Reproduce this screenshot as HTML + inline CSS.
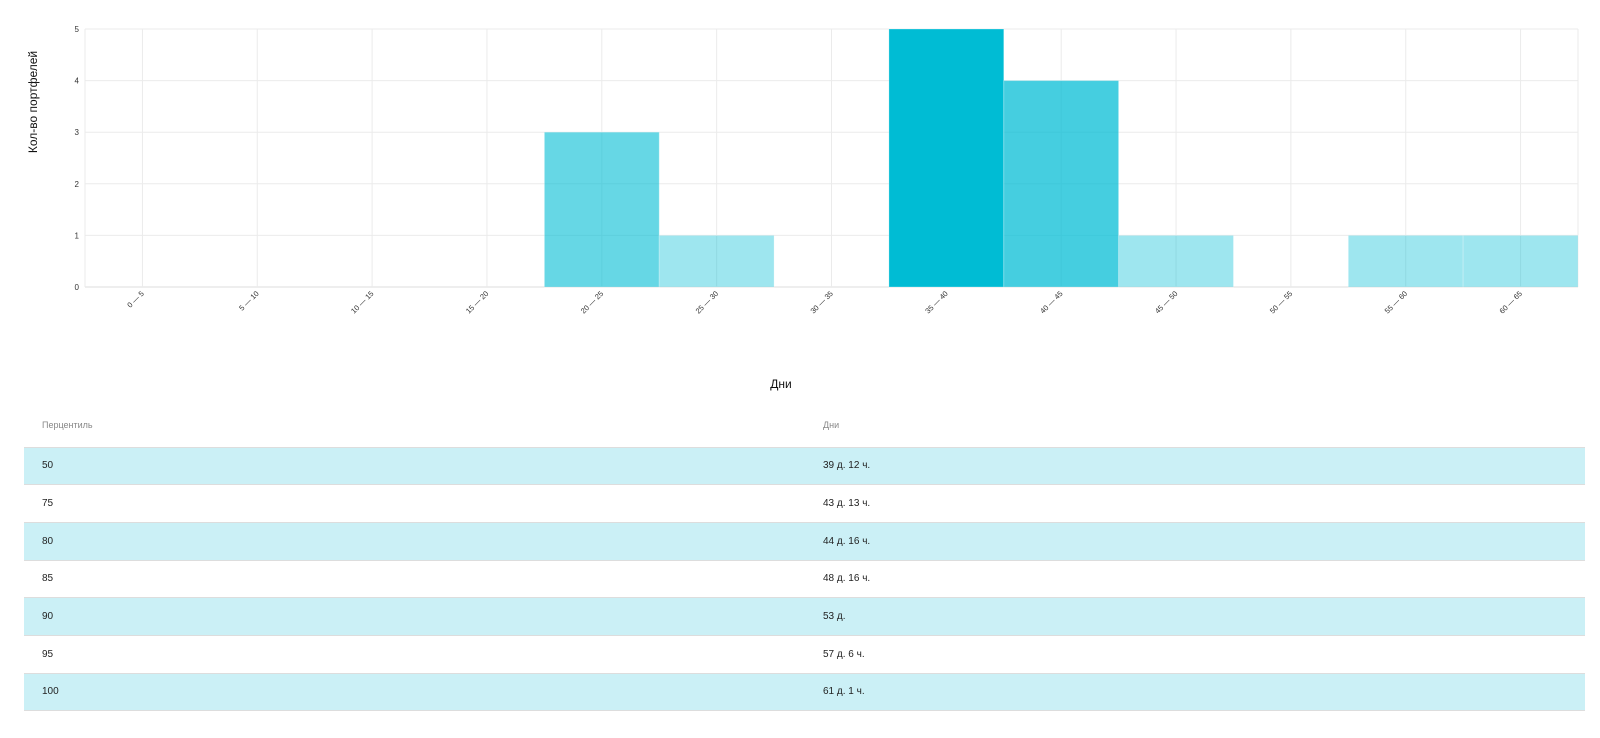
<!DOCTYPE html>
<html><head><meta charset="utf-8">
<style>
body{margin:0;width:1600px;height:738px;background:#fff;font-family:"Liberation Sans","DejaVu Sans",sans-serif;overflow:hidden;position:relative}
svg{position:absolute;left:0;top:0}
table{position:absolute;left:24px;top:403px;width:1561px;border-collapse:collapse;font-size:10px;color:#222}
td,th{height:37.7px;padding:0 0 0 18px;text-align:left;border-bottom:1px solid #ddd;box-sizing:border-box}
th{font-weight:normal;color:#888;font-size:9px;height:44px}
td:first-child,th:first-child{width:781px}
tr.odd{background:#cbf0f6}
</style></head><body>
<svg id="chart" width="1600" height="395"></svg>
<table>
<thead><tr><th>Перцентиль</th><th>Дни</th></tr></thead>
<tbody>
<tr class="odd"><td>50</td><td>39 д. 12 ч.</td></tr>
<tr><td>75</td><td>43 д. 13 ч.</td></tr>
<tr class="odd"><td>80</td><td>44 д. 16 ч.</td></tr>
<tr><td>85</td><td>48 д. 16 ч.</td></tr>
<tr class="odd"><td>90</td><td>53 д.</td></tr>
<tr><td>95</td><td>57 д. 6 ч.</td></tr>
<tr class="odd"><td>100</td><td>61 д. 1 ч.</td></tr>
</tbody></table>
<script>
const categories=["0 — 5","5 — 10","10 — 15","15 — 20","20 — 25","25 — 30","30 — 35","35 — 40","40 — 45","45 — 50","50 — 55","55 — 60","60 — 65"];
const counts=[0,0,0,0,3,1,0,5,4,1,0,1,1];
const yTicks=[0,1,2,3,4,5];
const NS="http://www.w3.org/2000/svg";
const svg=document.getElementById('chart');
const L=85,R=1578,T=29,B=287,yMax=5;
const bw=(R-L)/categories.length;
const xPos=i=>L+i*bw;
const yPos=v=>B-(v/yMax)*(B-T);
function mk(tag,attrs,parent){const e=document.createElementNS(NS,tag);for(const k in attrs)e.setAttribute(k,attrs[k]);(parent||svg).appendChild(e);return e;}
yTicks.forEach(t=>{
  const g=mk('line',{x1:L,x2:R,y1:yPos(t),y2:yPos(t),stroke:t===0?'#ddd':'#ebebeb','stroke-width':1});
  
  
  const tx=mk('text',{x:L-6,y:yPos(t)+3,'text-anchor':'end','font-size':8,fill:'#333'});
  tx.textContent=t;
  
  
});
mk('line',{x1:L,x2:L,y1:T,y2:B,stroke:'#ebebeb'});
mk('line',{x1:R,x2:R,y1:T,y2:B,stroke:'#ebebeb'});
categories.forEach((c,i)=>{
  const cx=xPos(i)+bw/2;
  const g=mk('line',{x1:cx,x2:cx,y1:T,y2:B,stroke:'#ebebeb'});
  
  
});
const op={1:0.38,2:0.5,3:0.6,4:0.73,5:1};
counts.forEach((v,i)=>{
  if(v<=0)return;
  const r=mk('rect',{x:xPos(i),y:yPos(v),width:bw,height:B-yPos(v),fill:'#00bcd4','fill-opacity':op[v]||0.4,stroke:'#fff','stroke-opacity':0.25,'stroke-width':1});
  
  
});
categories.forEach((c,i)=>{
  const cx=xPos(i)+bw/2;
  const t=mk('text',{x:cx+2,y:B+7,'text-anchor':'end','font-size':7.5,fill:'#333',transform:`rotate(-45 ${cx+2} ${B+7})`});
  t.textContent=c;
  
  
});
const xt=mk('text',{x:781,y:388,'text-anchor':'middle','font-size':12,fill:'#111'});
xt.textContent='Дни';


const yt=mk('text',{x:37,y:102,'text-anchor':'middle','font-size':12,fill:'#111',transform:'rotate(-90 37 102)'});
yt.textContent='Кол-во портфелей';


</script>
</body></html>
